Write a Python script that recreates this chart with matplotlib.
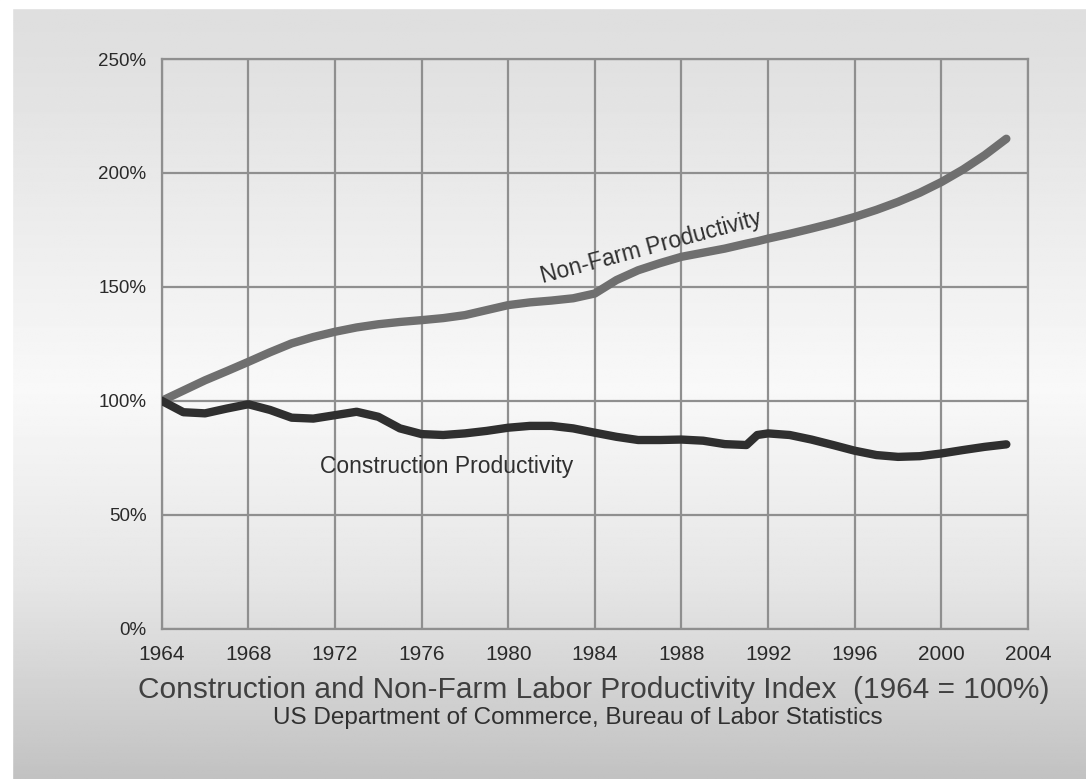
import numpy as np
import matplotlib
matplotlib.use("Agg")
import matplotlib.pyplot as plt
from matplotlib.ticker import FuncFormatter

years = [1964, 1965, 1966, 1967, 1968, 1969, 1970, 1971, 1972, 1973, 1974, 1975,
         1976, 1977, 1978, 1979, 1980, 1981, 1982, 1983, 1984, 1985, 1986, 1987,
         1988, 1989, 1990, 1991, 1991.5, 1992, 1993, 1994, 1995, 1996, 1997, 1998,
         1999, 2000, 2001, 2002, 2003]
nonfarm = [100, 104.5, 109, 113, 117.1, 121.3, 125.2, 128, 130.3, 132.2, 133.6, 134.6,
           135.4, 136.3, 137.6, 139.8, 142, 143.2, 144, 145, 147.1, 153, 157.3, 160.4,
           163.2, 165, 166.8, 169, 170, 171.2, 173.3, 175.6, 178, 180.7, 183.8, 187.3,
           191.3, 196, 201.5, 207.8, 215]
construction = [100, 95, 94.5, 96.6, 98.5, 96, 92.6, 92.2, 93.7, 95.2, 93, 87.9,
                85.4, 85, 85.7, 86.8, 88.2, 89, 89, 87.9, 86, 84.2, 82.8, 82.8,
                83, 82.5, 81, 80.6, 85, 85.7, 85, 83, 80.6, 78.1, 76.2, 75.4,
                75.7, 76.9, 78.4, 79.8, 80.9]
x_ticks = list(range(1964, 2005, 4))
y_ticks = [0, 50, 100, 150, 200, 250]

W, H = 1086, 779
fig = plt.figure(figsize=(W / 100, H / 100), dpi=100)

# background gradient
bg = fig.add_axes([0, 0, 1, 1])
bg.set_axis_off()
rows = np.linspace(0, 1, 400)
stops_y = [0.0, 0.08, 0.5, 0.75, 1.0]
stops_v = [0.87, 0.88, 0.975, 0.90, 0.76]
vals = np.interp(rows, stops_y, stops_v)
grad = np.repeat(vals[:, None], 10, axis=1)
bg.imshow(grad, cmap="gray", vmin=0, vmax=1, aspect="auto",
          extent=[0, 1, 0, 1], origin="upper")
bg.set_xlim(0, 1)
bg.set_ylim(0, 1)
bg.add_patch(plt.Rectangle((0, 1 - 8 / H), 1, 8 / H, color="white", zorder=3))
bg.add_patch(plt.Rectangle((0, 0), 12 / W, 1, color="white", zorder=3))

left = 161.7 / W
right = 1028 / W
bottom = 1 - 628.7 / H
top = 1 - 59 / H
ax = fig.add_axes([left, bottom, right - left, top - bottom])
ax.patch.set_alpha(0)

ax.plot(years, nonfarm, color="#6f6f6f", lw=6.0, solid_capstyle="round",
        solid_joinstyle="round", zorder=3)
ax.plot(years, construction, color="#2f2f2f", lw=6.0, solid_capstyle="round",
        solid_joinstyle="round", zorder=4)

ax.set_xlim(1964, 2004)
ax.set_ylim(0, 250)
ax.set_xticks(x_ticks)
ax.set_yticks(y_ticks)
ax.yaxis.set_major_formatter(FuncFormatter(lambda v, p: f"{int(v)}%"))
ax.grid(True, color="#8f8f8f", lw=1.6)
ax.set_axisbelow(True)
for s in ax.spines.values():
    s.set_color("#8f8f8f")
    s.set_linewidth(1.6)
fam = ["Liberation Sans", "DejaVu Sans"]
ax.tick_params(length=0, labelcolor="#2a2a2a")
ax.tick_params(axis="x", pad=12, labelsize=15)
ax.tick_params(axis="y", pad=11, labelsize=13.5)
for lab in ax.get_xticklabels() + ax.get_yticklabels():
    lab.set_family(fam)

ax.text(1971.3, 71, "Construction Productivity", fontsize=16.5, color="#303030",
        family=fam, ha="left", va="center")
ax.text(1981.5, 154.5, "Non-Farm Productivity", fontsize=16.5, color="#303030",
        family=fam, ha="left", va="center", rotation=15, rotation_mode="anchor")

fig.text(594 / W, 1 - 690 / H,
         "Construction and Non-Farm Labor Productivity Index  (1964 = 100%)",
         fontsize=21.5, color="#404040", family=fam, ha="center", va="center")
fig.text(578 / W, 1 - 718 / H,
         "US Department of Commerce, Bureau of Labor Statistics",
         fontsize=17.5, color="#303030", family=fam, ha="center", va="center")

fig.savefig("out.png", dpi=100)
